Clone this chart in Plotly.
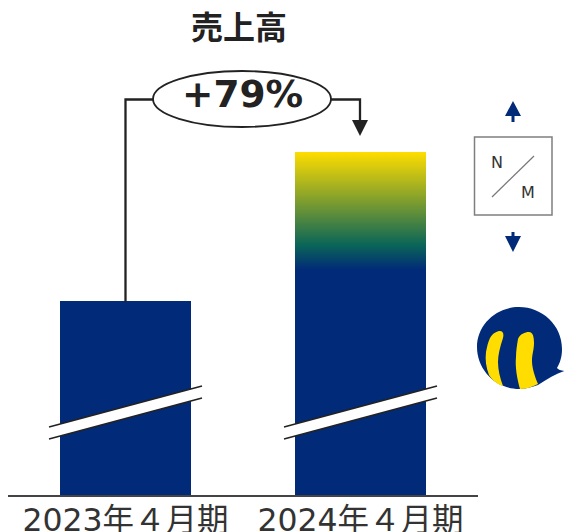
import plotly.graph_objects as go

categories = ["2023年４月期", "2024年４月期"]
positions = [0, 1]
sales_index = [100.0, 176.8]
gradient_start = 116.0
title_text = "売上高"
growth_text = "+79%"

W, H = 565, 532
NAVY = "#012a78"
YELLOW = "#ffdd00"
DARK = "#222222"
BAR_W = 131 / 235
FONT = "DejaVu Sans, Noto Sans CJK JP"


def X(v):
    return v / W


def Y(v):
    return 1 - v / H


def path(*items):
    out = []
    for it in items:
        if isinstance(it, str):
            out.append(it)
        else:
            out.append(f"{X(it[0]):.5f},{Y(it[1]):.5f}")
    return " ".join(out)


fig = go.Figure()
fig.add_trace(go.Bar(x=positions, y=[sales_index[0], gradient_start + 0.4], width=BAR_W,
                     marker=dict(color=NAVY, line=dict(width=0)), showlegend=False))
x0 = positions[1] - BAR_W / 2
x1 = positions[1] + BAR_W / 2
fig.add_trace(go.Scatter(
    x=[x0, x1, x1, x0, x0],
    y=[gradient_start, gradient_start, sales_index[1], sales_index[1], gradient_start],
    mode="lines", line=dict(width=0), fill="toself", showlegend=False,
    fillgradient=dict(type="vertical", start=gradient_start, stop=sales_index[1],
                      colorscale=[[0, NAVY], [0.21, "#0a6558"], [1, YELLOW]]),
))

shapes = []


def add(d, fill=None, color=None, width=0):
    shapes.append(dict(type="path", xref="paper", yref="paper", path=d,
                       fillcolor=fill or "rgba(0,0,0,0)",
                       line=dict(color=color or "rgba(0,0,0,0)", width=width)))


# break marks
for off in (0, 235):
    add(path("M", (49 + off, 427), "L", (202 + off, 386), "L", (202 + off, 398),
             "L", (49 + off, 439), "Z"), fill="white")
    add(path("M", (49 + off, 427), "L", (202 + off, 386)), color=DARK, width=1.6)
    add(path("M", (49 + off, 439), "L", (202 + off, 398)), color=DARK, width=1.6)

# connector
add(path("M", (125.5, 302), "L", (125.5, 99.5), "L", (153, 99.5)), color=DARK, width=2.3)
add(path("M", (331, 99.5), "L", (360, 99.5), "L", (360, 122)), color=DARK, width=2.3)
add(path("M", (352, 120), "L", (368, 120), "L", (360, 136), "Z"), fill=DARK)
shapes.append(dict(type="circle", xref="paper", yref="paper",
                   x0=X(153), x1=X(331), y0=Y(127), y1=Y(71),
                   fillcolor="white", line=dict(color=DARK, width=1.8)))

# N/M legend box
shapes.append(dict(type="rect", xref="paper", yref="paper",
                   x0=X(474.5), x1=X(552), y0=Y(215), y1=Y(137),
                   fillcolor="white", line=dict(color="#7f7f7f", width=1.5)))
add(path("M", (492, 197), "L", (534, 156)), color="#777777", width=1.2)
add(path("M", (513, 101), "L", (521, 116), "L", (514.5, 116), "L", (514.5, 122),
         "L", (511.5, 122), "L", (511.5, 116), "L", (505, 116), "Z"), fill=NAVY)
add(path("M", (513, 252), "L", (521, 236), "L", (514.5, 236), "L", (514.5, 232),
         "L", (511.5, 232), "L", (511.5, 236), "L", (505, 236), "Z"), fill=NAVY)

# logo mark
add(path("M", (519, 307),
         "C", (542, 307), (562, 325), (562, 349),
         "C", (562, 357), (560, 363), (557, 368),
         "C", (558, 369.5), (561, 370.5), (564.3, 371),
         "C", (556, 374), (547, 379), (538, 385),
         "C", (532, 387), (525, 389), (519, 389),
         "C", (496, 389), (477, 370), (477, 347),
         "C", (477, 325), (496, 307), (519, 307), "Z"), fill=NAVY)
add(path("M", (490, 338),
         "C", (493, 333), (497, 331), (500, 331),
         "C", (503, 331), (504, 334), (503, 338),
         "C", (500, 347), (498, 355), (498, 362),
         "C", (498, 370), (500, 378), (503, 386),
         "C", (497, 384), (492, 380), (489, 375),
         "C", (486, 367), (485, 360), (486, 352),
         "C", (487, 347), (488, 342), (490, 338), "Z"), fill=YELLOW)
add(path("M", (518, 339),
         "C", (520, 334), (525, 332), (529, 332),
         "C", (533, 332), (534, 337), (534, 343),
         "C", (534, 350), (532, 354), (532, 361),
         "C", (532, 368), (535, 377), (538, 384),
         "C", (532, 387), (526, 389), (520, 389),
         "C", (517, 378), (515, 367), (516, 357),
         "C", (516, 351), (517, 345), (518, 339), "Z"), fill=YELLOW)

annotations = []


def text(t, x, y, size, color=DARK, bold=False):
    annotations.append(dict(text=f"<b>{t}</b>" if bold else t, xref="paper", yref="paper",
                            x=X(x), y=Y(y), xanchor="center", yanchor="middle", showarrow=False,
                            font=dict(family=FONT, size=size, color=color)))


text(title_text, 239, 28, 32, bold=True)
text(growth_text, 242, 94, 37.5, bold=True)
text("N", 497, 162, 16, color="#333333")
text("M", 528, 192, 16, color="#333333")

fig.update_layout(
    width=W, height=H, autosize=False,
    margin=dict(l=0, r=0, t=0, b=0, pad=0, autoexpand=False),
    paper_bgcolor="white", plot_bgcolor="white",
    shapes=shapes, annotations=annotations,
    xaxis=dict(domain=[8 / W, 478 / W], range=[-0.5, 1.5], tickmode="array", automargin=False,
               tickvals=positions, ticktext=categories, ticklen=0, showgrid=False,
               ticklabelstandoff=-4,
               zeroline=False, showline=True, linecolor="#444444", linewidth=2,
               tickfont=dict(family=FONT, size=31.5, color="#333333")),
    yaxis=dict(domain=[37 / H, 1], range=[0, 495 / 194 * 100], visible=False),
)
fig.write_html("out.html", config=dict(displayModeBar=False),
               post_script="document.documentElement.style.margin='0';document.body.style.margin='0';document.body.style.padding='0';")
